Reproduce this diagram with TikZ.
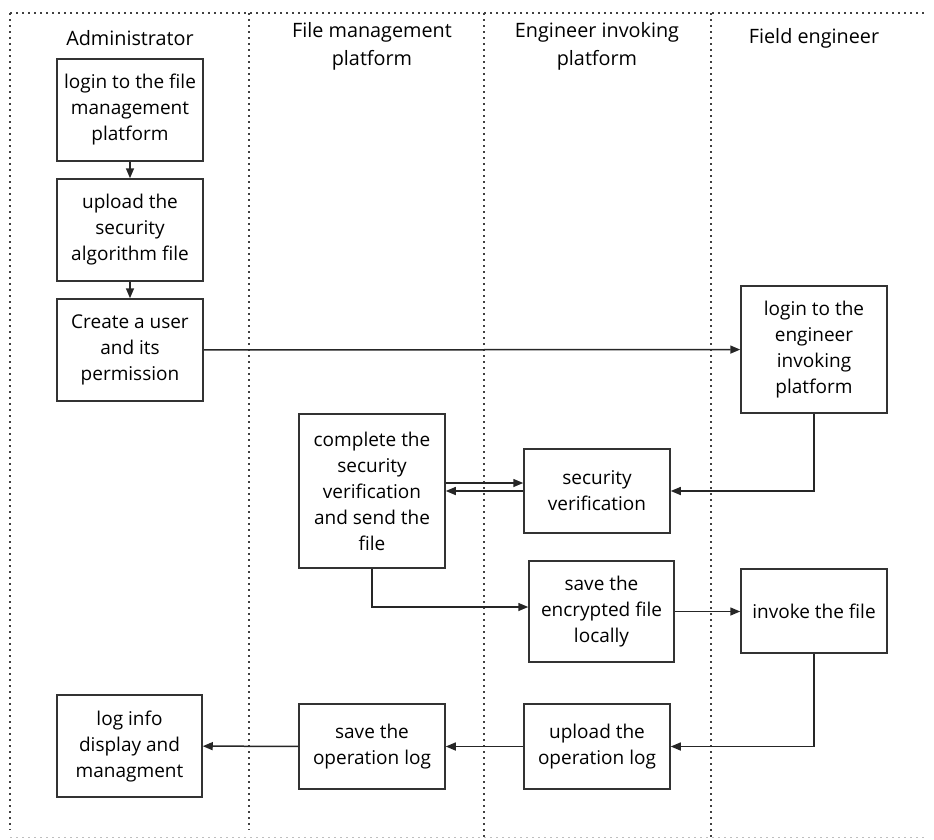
\documentclass[tikz,border=0pt]{standalone}
\usepackage{fontspec}
\setmainfont{Open Sans}
\usetikzlibrary{arrows.meta}
\begin{document}
\begin{tikzpicture}[x=1pt,y=-1pt,
  box/.style={draw=black!80,line width=1.5pt,align=center,inner sep=2pt,
    font=\fontsize{19}{26}\selectfont},
  hdr/.style={align=center,font=\fontsize{19.8}{28}\selectfont},
  lane/.style={black!75,line width=1.4pt,dash pattern=on 1.6pt off 4.4pt},
  conn/.style={black!85,line width=1.5pt,-{Triangle[length=10pt,width=8pt]}}]
\useasboundingbox (0,0) rectangle (934,839);
% lanes
\draw[lane] (10,13) -- (927,13);
\draw[lane] (10,13) -- (10,830);
\draw[lane] (249,13) -- (249,830);
\draw[lane] (484,13) -- (484,839);
\draw[lane] (711,13) -- (711,839);
\draw[black!25,line width=1pt,dash pattern=on 1.6pt off 4.4pt] (10,837) -- (924,837);
% headers
\node[hdr] (h1) at (130,38) {Administrator};
\node[hdr] (h2) at (372,46) {File management\\platform};
\node[hdr] (h3) at (597,46) {Engineer invoking\\platform};
\node[hdr] (h4) at (814,38) {Field engineer};
% boxes
\node[box,minimum width=146pt,minimum height=102pt] (b1) at (130,110) {login to the file\\management\\platform};
\node[box,minimum width=146pt,minimum height=102pt] (b2) at (130,230) {upload the\\security\\algorithm file};
\node[box,minimum width=146pt,minimum height=102pt] (b3) at (130,350) {Create a user\\and its\\permission};
\node[box,minimum width=146pt,minimum height=127pt] (b4) at (814,349.5) {login to the\\engineer\\invoking\\platform};
\node[box,minimum width=146pt,minimum height=154pt] (b5) at (372,491) {complete the\\security\\verification\\and send the\\file};
\node[box,minimum width=146pt,minimum height=84pt] (b6) at (597,491) {security\\verification};
\node[box,minimum width=145pt,minimum height=101pt] (b7) at (601.5,611.5) {save the\\encrypted file\\locally};
\node[box,minimum width=146pt,minimum height=84pt] (b8) at (814,611) {invoke the file};
\node[box,minimum width=145pt,minimum height=102pt] (b9) at (129.5,746) {log info\\display and\\managment};
\node[box,minimum width=146pt,minimum height=85pt] (b10) at (372,746.5) {save the\\operation log};
\node[box,minimum width=146pt,minimum height=85pt] (b11) at (597,746.5) {upload the\\operation log};
% connectors
\draw[conn] (b1) -- (b2);
\draw[conn] (b2) -- (b3);
\draw[conn] (b3) -- (b4);
\draw[conn] (b4.south) |- (b6.east);
\draw[conn] (b5.east |- 0,483) -- (b6.west |- 0,483);
\draw[conn] (b6.west |- 0,491) -- (b5.east |- 0,491);
\draw[conn] (b5.south) |- (b7.west |- 0,607);
\draw[conn] (b7.east) -- (b8.west |- b7.east);
\draw[conn] (b8.south) |- (b11.east);
\draw[conn] (b11) -- (b10);
\draw[conn] (b10) -- (b9);
\end{tikzpicture}
\end{document}
